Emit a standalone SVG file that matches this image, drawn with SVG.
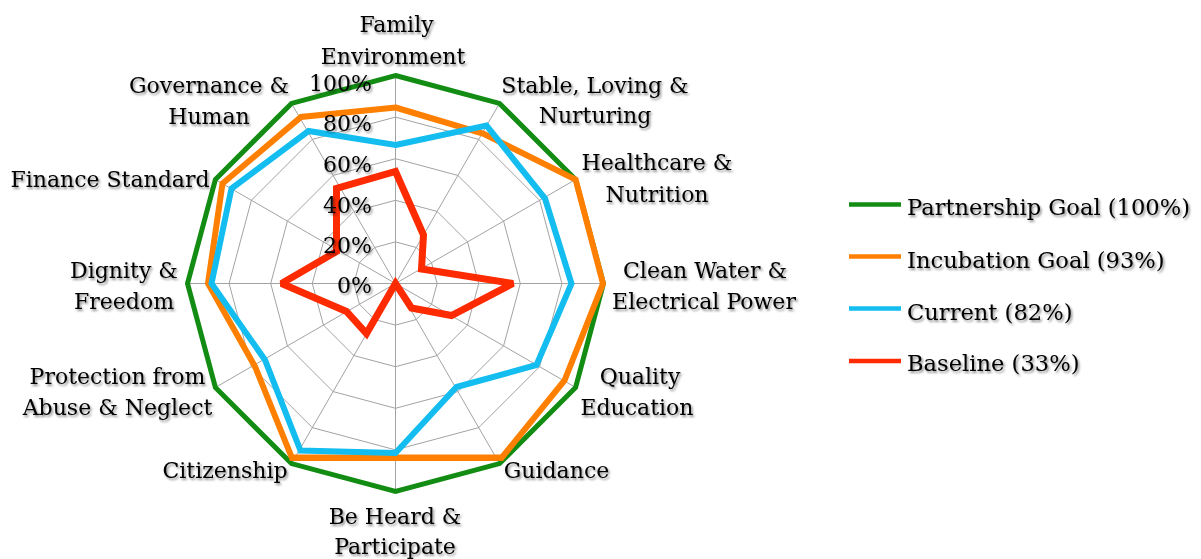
<svg xmlns="http://www.w3.org/2000/svg" width="1201" height="559" viewBox="0 0 1201 559">
<defs>
<filter id="sh" x="-10%" y="-30%" width="125%" height="170%">
<feDropShadow dx="1.5" dy="2" stdDeviation="1.3" flood-color="#000" flood-opacity="0.45"/>
</filter>
<style>
.t{font-family:"DejaVu Serif","Liberation Serif",serif;font-size:22px;fill:#000;filter:url(#sh)}
.c{text-anchor:middle}
.e{text-anchor:end}
.lt{font-size:22.6px}
.grid{fill:none;stroke:#a3a3a3;stroke-width:1}
.s{fill:none;stroke-linejoin:miter;stroke-miterlimit:2}
.g{stroke:#138c13;stroke-width:5}
.o{stroke:#ff7f00;stroke-width:6}
.b{stroke:#13bdf0;stroke-width:6}
.r{stroke:#fe2a00;stroke-width:7}
.lg{stroke-width:4.5}
</style>
</defs>
<rect width="1201" height="559" fill="#fff"/>

<g id="grid" transform="translate(395.5,283.5)">
<polygon class="grid" points="0,-41.6 20.8,-36.03 36.03,-20.8 41.6,0 36.03,20.8 20.8,36.03 0,41.6 -20.8,36.03 -36.03,20.8 -41.6,0 -36.03,-20.8 -20.8,-36.03"/>
<polygon class="grid" points="0,-83.2 41.6,-72.05 72.05,-41.6 83.2,0 72.05,41.6 41.6,72.05 0,83.2 -41.6,72.05 -72.05,41.6 -83.2,0 -72.05,-41.6 -41.6,-72.05"/>
<polygon class="grid" points="0,-124.8 62.4,-108.08 108.08,-62.4 124.8,0 108.08,62.4 62.4,108.08 0,124.8 -62.4,108.08 -108.08,62.4 -124.8,0 -108.08,-62.4 -62.4,-108.08"/>
<polygon class="grid" points="0,-166.4 83.2,-144.1 144.1,-83.2 166.4,0 144.1,83.2 83.2,144.1 0,166.4 -83.2,144.1 -144.1,83.2 -166.4,0 -144.1,-83.2 -83.2,-144.1"/>
<polygon class="grid" points="0,-208 104,-180.13 180.13,-104 208,0 180.13,104 104,180.13 0,208 -104,180.13 -180.13,104 -208,0 -180.13,-104 -104,-180.13"/>
<path class="grid" d="M0,0L0,-208M0,0L104,-180.13M0,0L180.13,-104M0,0L208,0M0,0L180.13,104M0,0L104,180.13M0,0L0,208M0,0L-104,180.13M0,0L-180.13,104M0,0L-208,0M0,0L-180.13,-104M0,0L-104,-180.13"/>
</g>

<g id="series">
<polygon id="partnership" class="s g" points="395.5,75.5 499.5,103.4 575.6,179.5 603.5,283.5 575.6,387.5 499.5,463.6 395.5,491.5 291.5,463.6 215.4,387.5 187.5,283.5 215.4,179.5 291.5,103.4"/>
<g id="incubation">
<polygon class="s o" points="395.5,107.5 483,133.5 575.6,179.5 603,283.5 564.5,380.5 501.5,458 395.5,458 292,458 255,366.5 208,283.5 222.5,183.5 301,117"/>
<line class="o" x1="292" y1="457.5" x2="502.5" y2="457.5" stroke-width="12"/>
</g>
<polygon id="current" class="s b" points="395.5,145 486.5,125.5 545,198.5 571.5,283.5 536.5,365 456.5,387 395.5,453 300.5,450.5 265,360 211.5,283.5 231.5,188.5 308.5,131"/>
<polygon id="baseline" class="s r" points="395.5,171.5 423.5,235 421.5,269 513,283.5 451.5,315.5 411.5,308 395.5,283.5 366.5,333.5 346.5,311.5 281.5,283.5 336.5,251.5 336.5,188.5"/>
</g>

<g id="scale">
<text class="t e" x="372" y="91">100%</text>
<text class="t e" x="372" y="131">80%</text>
<text class="t e" x="372" y="171.5">60%</text>
<text class="t e" x="372" y="213">40%</text>
<text class="t e" x="372" y="253">20%</text>
<text class="t e" x="372" y="293">0%</text>
</g>

<g id="label-family"><text class="t c" x="396.5" y="32">Family</text><text class="t c" x="393" y="63.5">Environment</text></g>
<g id="label-stable"><text class="t c" x="595" y="92.5">Stable, Loving &amp;</text><text class="t c" x="595" y="123">Nurturing</text></g>
<g id="label-health"><text class="t c" x="657" y="170">Healthcare &amp;</text><text class="t c" x="657" y="201.5">Nutrition</text></g>
<g id="label-water"><text class="t c" x="705" y="277.5">Clean Water &amp;</text><text class="t c" x="704" y="308.5">Electrical Power</text></g>
<g id="label-education"><text class="t c" x="640" y="383.5">Quality</text><text class="t c" x="637" y="415">Education</text></g>
<g id="label-guidance"><text class="t c" x="556.5" y="478">Guidance</text></g>
<g id="label-heard"><text class="t c" x="395" y="523.5">Be Heard &amp;</text><text class="t c" x="395" y="554">Participate</text></g>
<g id="label-citizenship"><text class="t c" x="225" y="477.5">Citizenship</text></g>
<g id="label-protection"><text class="t c" x="117.5" y="383.5">Protection from</text><text class="t c" x="117.5" y="415">Abuse &amp; Neglect</text></g>
<g id="label-dignity"><text class="t c" x="124" y="277.5">Dignity &amp;</text><text class="t c" x="124" y="308.5">Freedom</text></g>
<g id="label-finance"><text class="t c" x="110" y="187">Finance Standard</text></g>
<g id="label-governance"><text class="t c" x="209" y="92.5">Governance &amp;</text><text class="t c" x="209" y="123.5">Human</text></g>

<g id="legend">
<g id="legend-partnership"><line class="g lg" x1="849" y1="204.5" x2="901" y2="204.5"/><text class="t lt" x="907" y="215">Partnership Goal (100%)</text></g>
<g id="legend-incubation"><line class="o lg" x1="849" y1="256.5" x2="901" y2="256.5"/><text class="t lt" x="907" y="267.5">Incubation Goal (93%)</text></g>
<g id="legend-current"><line class="b lg" x1="849" y1="308.5" x2="901" y2="308.5"/><text class="t lt" x="907" y="319.5">Current (82%)</text></g>
<g id="legend-baseline"><line class="r lg" x1="849" y1="361" x2="901" y2="361"/><text class="t lt" x="907" y="371">Baseline (33%)</text></g>
</g>
</svg>
